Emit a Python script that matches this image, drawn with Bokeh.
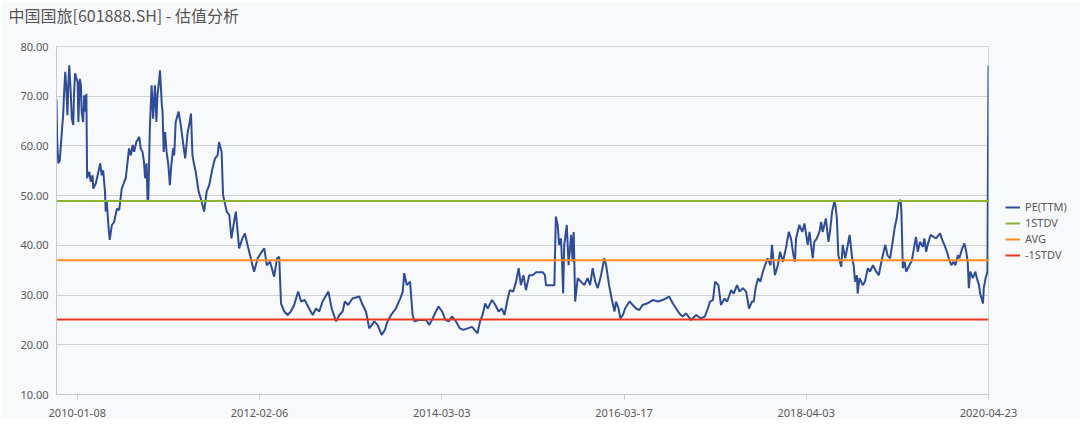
from bokeh.plotting import figure
from bokeh.models import Range1d, FixedTicker, NumeralTickFormatter, Legend, LegendItem, Title
from bokeh.embed import file_html
from bokeh.resources import INLINE

TITLE = "中国国旅[601888.SH] - 估值分析"

# trading-day index of each x tick and its label
tick_days = [57, 557, 1057, 1557, 2057, 2557]
tick_labels = ["2010-01-08", "2012-02-06", "2014-03-03", "2016-03-17", "2018-04-03", "2020-04-23"]
y_ticks = [10, 20, 30, 40, 50, 60, 70, 80]

# PE(TTM) series: trading-day index and value
pe_day = [0, 2, 5, 9, 16, 18, 21, 24, 27, 30, 33, 35, 39, 42, 46, 48, 51, 55, 58, 60, 64, 67, 69, 73, 76, 80, 82, 84,
          90, 94, 99, 101, 108, 115, 120, 124, 128, 133, 135, 138, 143, 146, 152, 158, 166, 172, 179, 186, 190, 195,
          199, 204, 209, 213, 219, 227, 231, 236, 240, 243, 247, 250, 252, 256, 261, 265, 270, 274, 277, 282, 284,
          289, 291, 294, 298, 302, 307, 311, 315, 320, 323, 327, 335, 341, 348, 353, 360, 364, 369, 373, 378, 382,
          390, 396, 405, 412, 419, 428, 435, 442, 446, 453, 457, 461, 467, 474, 480, 487, 492, 497, 501, 510,
          517, 524, 533, 542, 552, 563, 570, 577, 586, 597, 605, 611, 616, 625, 634, 643, 652, 663, 671, 681, 693,
          703, 712, 721, 730, 746, 755, 767, 776, 785, 791, 800, 812, 831, 840, 849, 858, 872, 881, 892, 901, 908,
          918, 931, 943, 950, 954, 961, 970, 977, 982, 995,
          1014, 1023, 1032, 1041, 1048, 1058, 1067, 1076, 1085, 1096, 1107, 1116, 1128, 1140, 1155, 1162, 1169,
          1176, 1183, 1195, 1204, 1213, 1222, 1229, 1238, 1244, 1253, 1261, 1268, 1274, 1281, 1288, 1297, 1306,
          1316, 1334, 1340, 1343, 1366, 1370, 1375, 1379, 1384, 1387, 1390, 1393, 1400, 1405, 1412, 1416, 1419,
          1423, 1430, 1439, 1448, 1457, 1464, 1471, 1478, 1485, 1494, 1503, 1508, 1516, 1523,
          1531, 1535, 1542, 1547, 1554, 1560, 1572, 1581, 1590, 1599, 1608, 1620, 1636, 1650, 1663, 1681, 1691,
          1700, 1709, 1718, 1727, 1741, 1755, 1768, 1779, 1787, 1793, 1801, 1807, 1816, 1823, 1833, 1840, 1851,
          1858, 1867, 1874, 1883, 1892, 1900, 1908, 1913, 1918, 1925, 1931, 1938, 1944, 1951, 1959, 1963, 1971,
          1979, 1985, 1993, 2002, 2009, 2015, 2022, 2026,
          2029, 2038, 2046, 2052, 2061, 2066, 2070, 2075, 2079, 2086, 2093, 2098, 2102, 2111, 2118, 2122, 2128,
          2134, 2137, 2141, 2145, 2153, 2157, 2164, 2171, 2176, 2183, 2187, 2191, 2196, 2198, 2203, 2212, 2218,
          2226, 2232, 2240, 2249, 2256, 2265, 2274, 2280, 2287, 2294, 2300, 2305, 2311, 2316, 2318, 2322, 2327,
          2331, 2340, 2347, 2354, 2358, 2363, 2369, 2377, 2381, 2386, 2390, 2398, 2406, 2413, 2424, 2430, 2436,
          2443, 2448, 2455, 2461, 2466, 2473, 2477, 2485, 2491, 2496, 2500, 2503, 2507, 2514, 2521, 2525, 2531,
          2534, 2542, 2544, 2549, 2554, 2557]
pe_val = [69.3, 61.0, 56.5, 57.0, 64.2, 65.8, 70.9, 74.9, 71.5, 66.2, 73.5, 76.2, 70.9, 65.5, 64.2, 70.2, 74.6, 73.5,
          72.9, 64.8, 73.5, 72.2, 66.9, 64.8, 70.2, 66.9, 70.5, 53.5,
          54.8, 52.8, 54.1, 51.4, 52.5, 54.8, 56.5, 54.1, 55.1, 50.8, 46.8, 48.8, 43.4, 41.1, 44.1, 44.7, 47.4, 47.1,
          51.4, 52.8, 53.5, 56.8, 59.5, 58.1, 60.2, 58.8, 60.8, 61.8, 59.5, 58.8, 56.8, 53.5, 56.5, 48.8, 49.4, 63.5,
          72.2, 65.5, 72.2, 64.8, 70.2, 73.5, 75.2, 68.2, 66.9, 58.8, 62.8, 58.8, 56.1, 52.1, 56.1, 59.5, 58.1, 64.8,
          66.9, 64.2, 60.2, 57.5, 62.8, 64.2, 66.5, 58.1, 56.1, 54.8, 50.8, 49.4, 46.8, 50.8, 52.1, 55.5, 57.5, 58.1,
          60.8, 58.8, 50.1, 48.8, 46.8, 46.1, 41.4, 44.7, 46.8, 42.7, 39.4, 41.4,
          42.4, 40.1, 37.4, 34.7, 37.4, 38.7, 39.4, 36.0, 36.7, 33.7, 37.4, 37.7, 28.3, 26.7, 26.0, 26.7, 28.0, 30.7,
          28.7, 29.0, 27.3, 26.0, 27.3, 26.7, 28.7, 30.7, 27.3, 24.7, 26.0, 26.7, 28.7, 28.0, 29.3, 29.7, 28.0, 26.7,
          23.3, 24.7, 24.0, 22.0, 23.0, 24.7, 26.0, 27.3, 29.3, 30.7, 34.4, 32.0, 32.7, 26.0, 24.7, 25.0,
          25.0, 24.0, 25.3, 26.7, 27.7, 26.7, 25.0, 24.7, 25.7, 24.7, 23.3, 23.0, 23.3, 23.6, 22.3, 24.7, 26.0, 28.3,
          27.3, 29.0, 28.0, 26.7, 27.3, 26.0, 29.3, 31.0, 30.7, 32.7, 35.4, 32.0, 34.0, 31.0, 34.0, 34.0, 34.6, 34.6,
          34.0, 32.0, 32.0, 45.8, 44.1, 40.1, 41.4, 36.7, 30.3, 40.1, 44.1, 36.0, 42.1, 36.7, 42.7, 28.7, 33.4, 32.7,
          32.0, 33.4, 32.0, 35.4, 32.7, 31.4, 34.0, 37.4, 36.0, 32.0, 29.3,
          26.7, 28.7, 27.3, 25.3, 26.0, 27.3, 28.7, 28.0, 27.3, 27.0, 28.0, 28.3, 29.0, 28.7, 29.0, 29.7, 28.3, 27.3,
          26.3, 25.7, 26.3, 25.0, 26.0, 25.3, 25.7, 27.3, 28.7, 29.0, 32.7, 32.0, 28.0, 29.3, 28.7, 31.0, 30.3, 32.0,
          30.7, 31.4, 30.7, 27.3, 28.7, 28.7, 31.4, 33.4, 32.7, 34.7, 36.0, 37.4, 36.0, 40.1, 34.0, 36.0, 38.7, 36.7,
          39.7, 42.7, 41.4, 38.0, 36.7,
          41.4, 44.1, 42.7, 44.4, 40.1, 42.7, 40.1, 37.4, 40.7, 41.4, 42.7, 44.7, 42.7, 45.4, 40.7, 42.7, 46.8, 48.8,
          48.1, 45.4, 38.0, 35.7, 40.1, 37.4, 40.1, 42.1, 37.4, 36.0, 32.7, 34.0, 30.3, 33.4, 32.0, 32.7, 35.4, 34.7,
          36.0, 34.7, 34.0, 37.4, 40.1, 38.0, 37.4, 40.7, 43.7, 45.4, 48.8, 49.1, 46.8, 35.4, 36.7, 34.7, 36.0, 37.0,
          40.1, 41.7, 38.7, 40.7, 39.7, 41.4, 38.7, 40.1, 42.1, 41.7, 41.4, 42.4, 41.1, 40.1, 38.7, 37.4, 36.0, 36.7,
          36.0, 38.0, 37.4, 39.4, 40.4, 38.7, 36.7, 31.4, 34.7, 33.4, 34.7, 33.4, 32.0, 30.3, 28.3, 31.4, 33.4, 34.7,
          76.2]

# statistic lines
stdv_plus = 48.9
avg = 37.0
stdv_minus = 25.1

BG = "#f8f9fb"
TEXT = "#595959"
AXIS = "#c3cad8"
FONT = "Noto Sans"

p = figure(title=None, frame_width=932, frame_height=348, output_backend="svg", toolbar_location=None,
           x_range=Range1d(pe_day[0], pe_day[-1]), y_range=Range1d(y_ticks[0], y_ticks[-1]),
           min_border_left=56, min_border_right=92, min_border_top=46, min_border_bottom=0,
           background_fill_color=BG, border_fill_color=BG, outline_line_color="#d2d6dc")

# spacer between the title and the plot frame, then the title itself
p.add_layout(Title(text=" ", text_font_size="2px", standoff=15), "above")
p.add_layout(Title(text=TITLE, text_font="Noto Sans CJK SC", text_font_size="16px",
                   text_font_style="normal", text_color="#555555", align="left",
                   vertical_align="middle", offset=-48, standoff=0), "above")

xa = p.xaxis[0]
xa.ticker = FixedTicker(ticks=tick_days)
xa.major_label_overrides = {d: l for d, l in zip(tick_days, tick_labels)}
xa.axis_line_color = AXIS
xa.major_tick_line_color = AXIS
xa.major_tick_out = 5
xa.major_tick_in = 0
xa.minor_tick_line_color = None
xa.major_label_standoff = 9
xa.major_label_text_font = FONT
xa.major_label_text_font_size = "11px"
xa.major_label_text_color = TEXT

ya = p.yaxis[0]
ya.ticker = FixedTicker(ticks=y_ticks)
ya.formatter = NumeralTickFormatter(format="0.00")
ya.axis_line_color = AXIS
ya.major_tick_line_color = None
ya.minor_tick_line_color = None
ya.major_tick_out = 0
ya.major_tick_in = 0
ya.major_label_standoff = 8
ya.major_label_text_font = FONT
ya.major_label_text_font_size = "11px"
ya.major_label_text_color = TEXT

p.xgrid.grid_line_color = None
p.ygrid.grid_line_color = "#cdcfd3"
p.ygrid.grid_line_width = 1

x_span = [pe_day[0], pe_day[-1]]
r_pe = p.line(pe_day, pe_val, line_color="#2f4c9c", line_width=2)
r_p = p.line(x_span, [stdv_plus, stdv_plus], line_color="#8db52c", line_width=2)
r_a = p.line(x_span, [avg, avg], line_color="#ff8a1e", line_width=2)
r_m = p.line(x_span, [stdv_minus, stdv_minus], line_color="#e8381f", line_width=2)

legend = Legend(items=[LegendItem(label="PE(TTM)", renderers=[r_pe]),
                       LegendItem(label="1STDV", renderers=[r_p]),
                       LegendItem(label="AVG", renderers=[r_a]),
                       LegendItem(label="-1STDV", renderers=[r_m])],
                location=(17, 132), background_fill_alpha=0, border_line_color=None,
                label_text_font=FONT, label_text_font_size="11px", label_text_color=TEXT,
                glyph_width=15, glyph_height=12, label_height=12, label_standoff=5,
                spacing=1, padding=0, margin=0)
p.add_layout(legend, "right")

open("out.html", "w").write(file_html(p, INLINE))
